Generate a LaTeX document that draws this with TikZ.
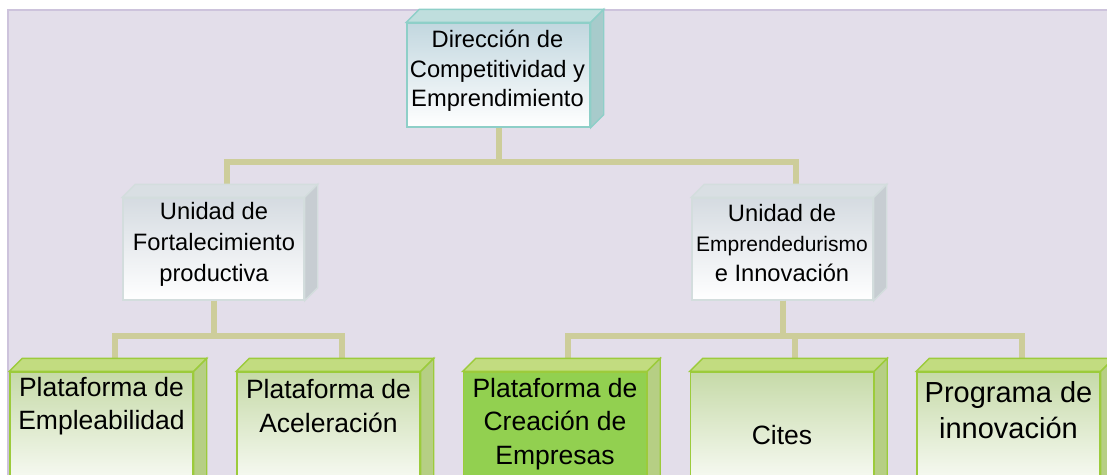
\documentclass[tikz,border=0pt]{standalone}
\usepackage{fontspec}
\setmainfont{Liberation Sans}
\usetikzlibrary{calc}

\definecolor{bgLav}{HTML}{E3DEEA}
\definecolor{bgEdge}{HTML}{CDC3DC}
\definecolor{link}{HTML}{CDCD9A}
\definecolor{tealEdge}{HTML}{8ECFC8}
\definecolor{tealTop}{HTML}{BFDEDD}
\definecolor{tealSide}{HTML}{A7CBCB}
\definecolor{tealFront}{HTML}{C2D7DF}
\definecolor{greyEdge}{HTML}{D3DDDD}
\definecolor{greyTop}{HTML}{D9DFE3}
\definecolor{greySide}{HTML}{C7CDD2}
\definecolor{greyFront}{HTML}{D5DBE1}
\definecolor{limeEdge}{HTML}{9CCB3B}
\definecolor{limeTop}{HTML}{C2DC80}
\definecolor{limeSide}{HTML}{B6CF84}
\definecolor{limeFront}{HTML}{C6DAA8}
\definecolor{limeFull}{HTML}{92D050}

% top and right faces of a box node
\newcommand{\boxsides}[3]{%
  \filldraw[#2] (#1.north west) -- ++(13,-13) -- ($(#1.north east)+(13,-13)$) -- (#1.north east) -- cycle;
  \filldraw[#3] (#1.north east) -- ++(13,-13) -- ($(#1.south east)+(13,-13)$) -- (#1.south east) -- cycle;
}

\begin{document}
\begin{tikzpicture}[x=1pt, y=-1pt, line join=miter,
    conn/.style={draw=link, line width=6pt},
    face/.style={inner sep=0pt, line width=1.4pt},
    D/.style={face, draw=tealEdge, top color=tealFront, bottom color=white, minimum width=183pt, minimum height=104pt},
    U/.style={face, draw=greyEdge, top color=greyFront, bottom color=white, minimum width=181pt, minimum height=102pt},
    P/.style={face, draw=limeEdge, top color=limeFront, bottom color=white, minimum width=183pt, minimum height=126pt},
    PF/.style={P, top color=limeFull, bottom color=limeFull},
    txt/.style={align=center, inner sep=0pt, font=\fontsize{23.7}{29.5}\selectfont},
    btxt/.style={txt, font=\fontsize{26.5}{33.5}\selectfont}
  ]
  \useasboundingbox (0,0) rectangle (1107,474);
  \clip (0,0) rectangle (1107,474);
  % background
  \filldraw[fill=bgLav, draw=bgEdge, line width=2pt] (8,10) rectangle (1130,500);

  % boxes
  \node[D] (dir) at (498.5,75) {};
  \node[U] (ufp) at (213.5,249) {};
  \node[U] (uei) at (782.5,249) {};
  \node[P] (pemp) at (101.5,435) {};
  \node[P] (pacel) at (328.5,435) {};
  \node[PF] (pcre) at (555,435) {};
  \node[P] (cites) at (782,435) {};
  \node[P] (pinn) at (1008.5,435) {};

  % texts
  \node[txt] (dir-t) at (497.5,71) {Dirección de\\Competitividad y\\Emprendimiento};
  \node[txt, font=\fontsize{23.7}{31}\selectfont] (ufp-t) at (214,244) {Unidad de\\Fortalecimiento\\productiva};
  \node[txt, font=\fontsize{23.7}{30}\selectfont] (uei-t) at (782,243) {Unidad de\\{\fontsize{21}{30}\selectfont Emprendedurismo}\\e Innovación};
  \node[btxt] (pemp-t) at (101.5,406) {Plataforma de\\Empleabilidad};
  \node[btxt] (pacel-t) at (328.5,406) {Plataforma de\\Aceleración};
  \node[btxt] (pcre-t) at (555,424) {Plataforma de\\Creación de\\Empresas};
  \node[btxt] (cites-t) at (782,435) {Cites};
  \node[txt, font=\fontsize{29}{36}\selectfont] (pinn-t) at (1008.5,410) {Programa de\\innovación};

  % connectors
  \draw[conn] (dir.south) -- ++(0,34) -| ($(ufp.north)+(13,-13)$);
  \draw[conn] (dir.south) -- ++(0,34) -| ($(uei.north)+(13,-13)$);
  \draw[conn] (ufp.south) -- ++(0,35) -| ($(pemp.north)+(13,-13)$);
  \draw[conn] (ufp.south) -- ++(0,35) -| ($(pacel.north)+(13,-13)$);
  \draw[conn] (uei.south) -- ++(0,35) -| ($(pcre.north)+(13,-13)$);
  \draw[conn] (uei.south) -- ++(0,35) -| ($(cites.north)+(13,-13)$);
  \draw[conn] (uei.south) -- ++(0,35) -| ($(pinn.north)+(13,-13)$);

  % 3d faces
  \boxsides{dir}{fill=tealTop, draw=tealEdge, line width=1.4pt}{fill=tealSide, draw=tealEdge, line width=1.4pt}
  \boxsides{ufp}{fill=greyTop, draw=greyEdge, line width=1.4pt}{fill=greySide, draw=greyEdge, line width=1.4pt}
  \boxsides{uei}{fill=greyTop, draw=greyEdge, line width=1.4pt}{fill=greySide, draw=greyEdge, line width=1.4pt}
  \boxsides{pemp}{fill=limeTop, draw=limeEdge, line width=1.4pt}{fill=limeSide, draw=limeEdge, line width=1.4pt}
  \boxsides{pacel}{fill=limeTop, draw=limeEdge, line width=1.4pt}{fill=limeSide, draw=limeEdge, line width=1.4pt}
  \boxsides{pcre}{fill=limeTop, draw=limeEdge, line width=1.4pt}{fill=limeSide, draw=limeEdge, line width=1.4pt}
  \boxsides{cites}{fill=limeTop, draw=limeEdge, line width=1.4pt}{fill=limeSide, draw=limeEdge, line width=1.4pt}
  \boxsides{pinn}{fill=limeTop, draw=limeEdge, line width=1.4pt}{fill=limeSide, draw=limeEdge, line width=1.4pt}
\end{tikzpicture}
\end{document}
